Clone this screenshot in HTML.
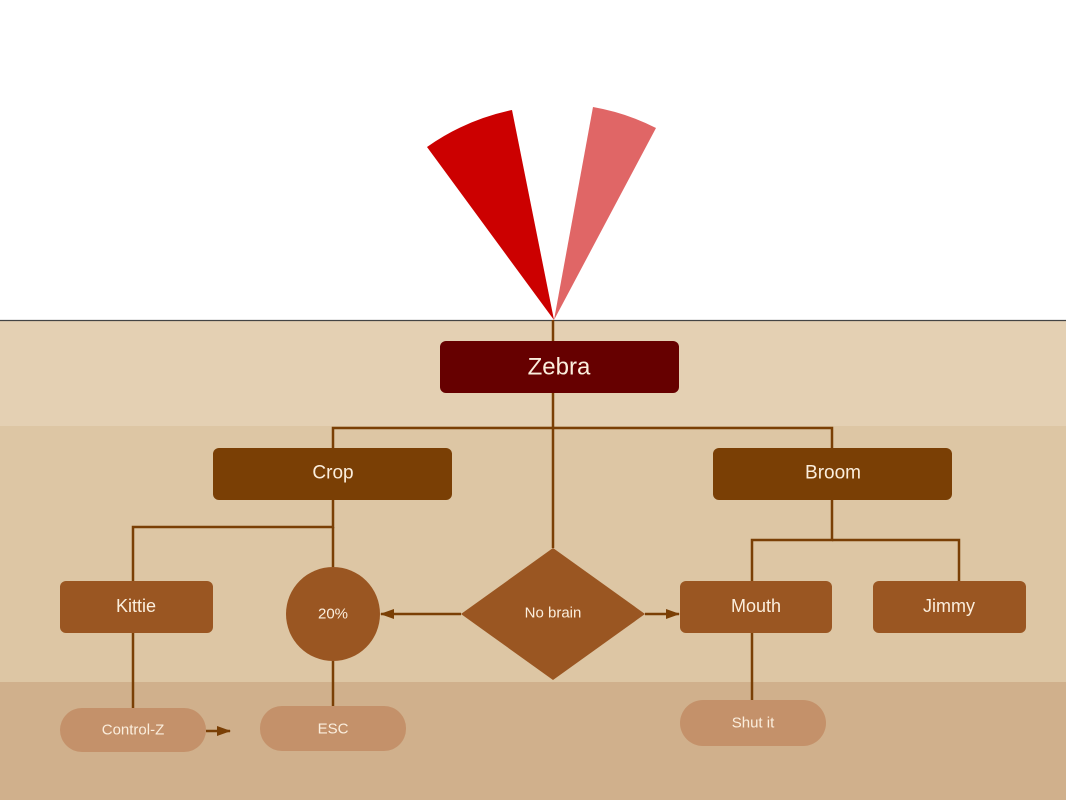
<!DOCTYPE html>
<html><head><meta charset="utf-8"><style>
html,body{margin:0;padding:0;background:#fff}
svg{display:block}
text{font-family:"Liberation Sans",sans-serif;fill:#fbeedd;text-anchor:middle;dominant-baseline:central}
</style></head><body>
<svg width="1066" height="800" viewBox="0 0 1066 800" xmlns="http://www.w3.org/2000/svg">
<defs><marker id="a" markerWidth="8" markerHeight="8" refX="7" refY="4" orient="auto" markerUnits="userSpaceOnUse"><path d="M0,0 L8,4 L0,8 z" fill="#7a3f05"/></marker>
<marker id="b" markerWidth="14" markerHeight="10" refX="13" refY="5" orient="auto" markerUnits="userSpaceOnUse"><path d="M0,0 L14,5 L0,10 z" fill="#7a3f05"/></marker></defs>
<rect x="0" y="0" width="1066" height="320" fill="#fff"/>
<rect x="0" y="320" width="1066" height="106" fill="#e4d0b3"/>
<rect x="0" y="426" width="1066" height="256" fill="#ddc6a4"/>
<rect x="0" y="682" width="1066" height="118" fill="#d0b08c"/>
<line x1="0" y1="320.5" x2="1066" y2="320.5" stroke="#444" stroke-width="1.2"/>
<path d="M554,320 L427,147 Q465,120 512,110 Z" fill="#cc0000"/>
<path d="M554,320 L593,107 Q627,113 656,128 Z" fill="#e06666"/>
<g stroke="#7a3f05" stroke-width="2.5" fill="none">
<line x1="553" y1="320" x2="553" y2="548"/>
<polyline points="333,448 333,428 832,428 832,448"/>
<polyline points="333,500 333,527 133,527 133,581"/>
<line x1="333" y1="527" x2="333" y2="567"/>
<polyline points="832,500 832,540 752,540 752,581"/>
<polyline points="832,540 959,540 959,581"/>
<line x1="133" y1="633" x2="133" y2="708"/>
<line x1="333" y1="661" x2="333" y2="706"/>
<line x1="752" y1="633" x2="752" y2="700"/>
<line x1="461" y1="614" x2="381" y2="614" marker-end="url(#b)"/>
<line x1="645" y1="614" x2="679" y2="614" marker-end="url(#b)"/>
<line x1="206" y1="731" x2="230" y2="731" marker-end="url(#b)"/>
</g>
<rect x="440" y="341" width="239" height="52" rx="6" fill="#660000"/>
<text x="559" y="367" font-size="24">Zebra</text>
<rect x="213" y="448" width="239" height="52" rx="6" fill="#7a3f05"/>
<text x="333" y="473" font-size="19">Crop</text>
<rect x="713" y="448" width="239" height="52" rx="6" fill="#7a3f05"/>
<text x="833" y="473" font-size="19">Broom</text>
<rect x="60" y="581" width="153" height="52" rx="6" fill="#9a5622"/>
<text x="136" y="606" font-size="18">Kittie</text>
<circle cx="333" cy="614" r="47" fill="#9a5622"/>
<text x="333" y="614" font-size="15">20%</text>
<polygon points="461,614 553,548 645,614 553,680" fill="#9a5622"/>
<text x="553" y="613" font-size="15">No brain</text>
<rect x="680" y="581" width="152" height="52" rx="6" fill="#9a5622"/>
<text x="756" y="606" font-size="18">Mouth</text>
<rect x="873" y="581" width="153" height="52" rx="6" fill="#9a5622"/>
<text x="949" y="606" font-size="18">Jimmy</text>
<rect x="60" y="708" width="146" height="44" rx="22" fill="#c4916a"/>
<text x="133" y="730" font-size="15">Control-Z</text>
<rect x="260" y="706" width="146" height="45" rx="22" fill="#c4916a"/>
<text x="333" y="729" font-size="15">ESC</text>
<rect x="680" y="700" width="146" height="46" rx="23" fill="#c4916a"/>
<text x="753" y="723" font-size="15">Shut it</text>
</svg>
</body></html>
